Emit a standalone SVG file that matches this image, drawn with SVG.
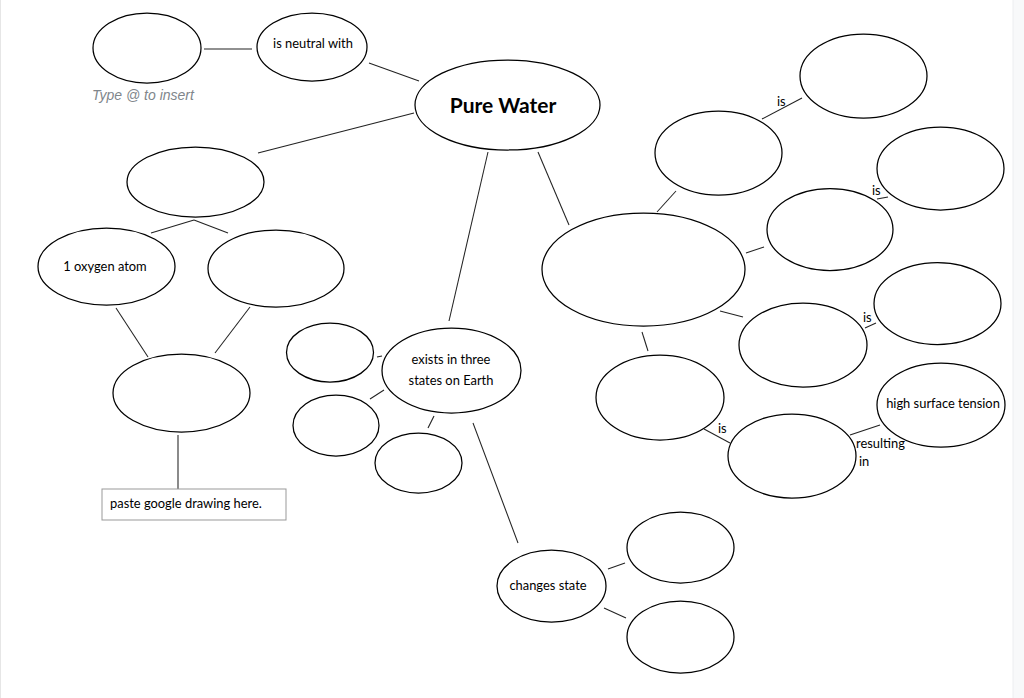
<svg xmlns="http://www.w3.org/2000/svg" width="1024" height="698" viewBox="0 0 1024 698">
<style>
.n{fill:#fff;stroke:#000;stroke-width:1.25}
.c line{stroke:#222;stroke-width:1.05}
.t{font-family:Lato,"Open Sans","Liberation Sans",sans-serif;font-size:12.9px;fill:#000}
.m{text-anchor:middle}
</style>
<rect x="0" y="0" width="1024" height="698" fill="#fff"/>
<rect x="1013" y="0" width="11" height="698" fill="#f8f9fa"/>
<line x1="1013" y1="0" x2="1013" y2="698" stroke="#eceef0" stroke-width="1"/>
<line x1="0.5" y1="0" x2="0.5" y2="698" stroke="#e6e6e6" stroke-width="1"/>

<g id="connectors" class="c">
<line x1="204" y1="49" x2="252" y2="49"/>
<line x1="369" y1="63" x2="419" y2="81"/>
<line x1="414" y1="113" x2="258" y2="153"/>
<line x1="488" y1="152" x2="449" y2="321"/>
<line x1="538" y1="152" x2="569" y2="225"/>
<line x1="151" y1="233" x2="194" y2="220"/>
<line x1="194" y1="220" x2="228" y2="233"/>
<line x1="116" y1="308" x2="148" y2="357"/>
<line x1="250" y1="307" x2="215" y2="353"/>
<line x1="178" y1="435" x2="178" y2="489"/>
<line x1="377" y1="357" x2="382" y2="356"/>
<line x1="370" y1="399" x2="384" y2="390"/>
<line x1="428" y1="428" x2="434" y2="416"/>
<line x1="473" y1="423" x2="518" y2="543"/>
<line x1="608" y1="569" x2="625" y2="563"/>
<line x1="604" y1="608" x2="626" y2="618"/>
<line x1="676" y1="191" x2="657" y2="212"/>
<line x1="762" y1="119" x2="802" y2="98"/>
<line x1="746" y1="253" x2="764" y2="247"/>
<line x1="877" y1="199" x2="888" y2="197"/>
<line x1="720" y1="311" x2="743" y2="317"/>
<line x1="865" y1="328" x2="876" y2="323"/>
<line x1="642" y1="332" x2="648" y2="351"/>
<line x1="704" y1="429" x2="730" y2="443"/>
<line x1="850" y1="435" x2="880" y2="425"/>
</g>

<g id="labels">
<text class="t" x="777" y="106">is</text>
<text class="t" x="872" y="195">is</text>
<text class="t" x="863" y="322">is</text>
<text class="t" x="718" y="433">is</text>
<text class="t" x="856" y="448">resulting</text>
<text class="t" x="859" y="466">in</text>
</g>

<g id="node-blank-top-left"><ellipse class="n" cx="147" cy="48" rx="54" ry="35"/></g>
<g id="type-hint"><text x="92" y="100" font-family="'Liberation Sans',Arial,sans-serif" font-size="14" font-style="italic" fill="#80868b">Type @ to insert</text></g>
<g id="node-neutral"><ellipse class="n" cx="312" cy="47" rx="55" ry="34"/><text class="t m" x="313" y="48">is neutral with</text></g>
<g id="node-pure-water"><ellipse class="n" cx="507.5" cy="105" rx="92.5" ry="45"/><text x="503" y="113" text-anchor="middle" font-family="Lato,'Open Sans','Liberation Sans',sans-serif" font-size="21" font-weight="bold">Pure Water</text></g>
<g id="node-left-top"><ellipse class="n" cx="195.5" cy="182" rx="68.5" ry="35"/></g>
<g id="node-oxygen"><ellipse class="n" cx="106.5" cy="266.5" rx="68.5" ry="38.5"/><text class="t m" x="105" y="271">1 oxygen atom</text></g>
<g id="node-left-right"><ellipse class="n" cx="276" cy="268.5" rx="68" ry="38.5"/></g>
<g id="node-left-bottom"><ellipse class="n" cx="181.5" cy="393" rx="68.5" ry="39"/></g>
<g id="node-paste"><rect x="102" y="489" width="184" height="31" fill="#fff" stroke="#999" stroke-width="1"/><text class="t" x="110" y="508">paste google drawing here.</text></g>
<g id="node-state-a"><ellipse class="n" cx="330" cy="352.5" rx="43.5" ry="29.5"/></g>
<g id="node-state-b"><ellipse class="n" cx="336" cy="425.5" rx="43" ry="30.5"/></g>
<g id="node-state-c"><ellipse class="n" cx="418.5" cy="463" rx="43.5" ry="30"/></g>
<g id="node-exists"><ellipse class="n" cx="451.5" cy="370.5" rx="69.5" ry="42.5"/><text class="t m" x="451" y="364">exists in three</text><text class="t m" x="451" y="385">states on Earth</text></g>
<g id="node-changes"><ellipse class="n" cx="551.5" cy="586" rx="54.5" ry="36"/><text class="t m" x="548" y="590">changes state</text></g>
<g id="node-change-a"><ellipse class="n" cx="680.5" cy="547.5" rx="53.5" ry="35.5"/></g>
<g id="node-change-b"><ellipse class="n" cx="680.5" cy="637" rx="53.5" ry="36"/></g>
<g id="node-big"><ellipse class="n" cx="643.5" cy="269.5" rx="101.5" ry="56.5"/></g>
<g id="node-r1"><ellipse class="n" cx="718.5" cy="153" rx="63.5" ry="42"/></g>
<g id="node-r1-is"><ellipse class="n" cx="863.5" cy="76" rx="63.5" ry="42"/></g>
<g id="node-r2"><ellipse class="n" cx="830" cy="229.5" rx="63" ry="41"/></g>
<g id="node-r2-is"><ellipse class="n" cx="940.5" cy="168.5" rx="63.5" ry="41.5"/></g>
<g id="node-r3"><ellipse class="n" cx="803" cy="345" rx="64" ry="42"/></g>
<g id="node-r3-is"><ellipse class="n" cx="937.5" cy="303.5" rx="63.5" ry="41"/></g>
<g id="node-r4"><ellipse class="n" cx="660" cy="397.5" rx="64" ry="42.5"/></g>
<g id="node-r4-is"><ellipse class="n" cx="792" cy="456" rx="64" ry="42"/></g>
<g id="node-tension"><ellipse class="n" cx="941" cy="405" rx="64" ry="42"/><text class="t m" x="943" y="408">high surface tension</text></g>
</svg>
